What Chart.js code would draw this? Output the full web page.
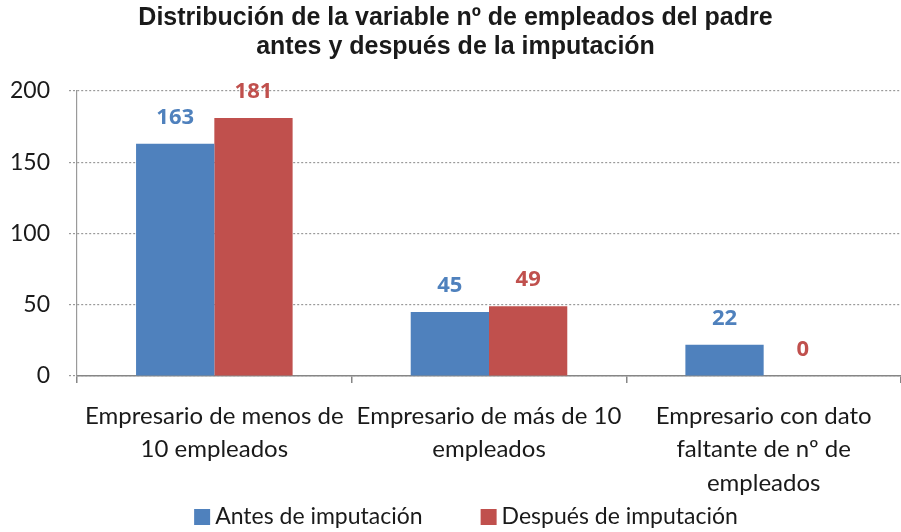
<!DOCTYPE html>
<html>
<head>
<meta charset="utf-8">
<script src="https://cdn.jsdelivr.net/npm/chart.js@4.4.0/dist/chart.umd.min.js"></script>
<style>
  html, body { margin: 0; padding: 0; background: #fff; }
</style>
</head>
<body>
<canvas id="grafico" width="901" height="532"></canvas>
<script>
// Datos
const categorias = [
  ['Empresario de menos de', '10 empleados'],
  ['Empresario de más de 10', 'empleados'],
  ['Empresario con dato', 'faltante de nº de', 'empleados']
];
const series = ['Antes de imputación', 'Después de imputación'];
const antes = [163, 45, 22];
const despues = [181, 49, 0];
const ticksY = [0, 50, 100, 150, 200];

const AZUL = '#4F81BD';
const ROJO = '#C0504D';

// Etiquetas de valor encima de cada barra
const etiquetasValor = {
  id: 'etiquetasValor',
  afterDatasetsDraw(chart) {
    const ctx = chart.ctx;
    ctx.save();
    ctx.font = 'bold 22px "Open Sans", sans-serif';
    ctx.textAlign = 'center';
    ctx.textBaseline = 'middle';
    chart.data.datasets.forEach((ds, i) => {
      const meta = chart.getDatasetMeta(i);
      ctx.fillStyle = ds.backgroundColor;
      meta.data.forEach((bar, j) => {
        ctx.fillText(String(ds.data[j]), bar.x, bar.y - 26);
      });
    });
    ctx.restore();
  }
};

// Leyenda abajo, dibujada a mano para imitar el espaciado de Excel
const leyenda = {
  id: 'leyenda',
  afterDraw(chart) {
    const ctx = chart.ctx;
    ctx.save();
    ctx.font = '23px Lato, sans-serif';
    ctx.textBaseline = 'middle';
    const caja = 16, hueco = 5, sep = 58, yc = 517;
    const items = chart.data.datasets.map(ds => ({ txt: ds.label, color: ds.backgroundColor,
                                                    w: ctx.measureText(ds.label).width }));
    let total = items.reduce((a, it) => a + caja + hueco + it.w, 0) + sep * (items.length - 1);
    let x = 466 - total / 2;
    items.forEach(it => {
      ctx.fillStyle = it.color;
      ctx.fillRect(x, yc - caja / 2, caja, caja);
      ctx.fillStyle = '#1a1a1a';
      ctx.fillText(it.txt, x + caja + hueco, yc);
      x += caja + hueco + it.w + sep;
    });
    ctx.restore();
  }
};

const ctx = document.getElementById('grafico').getContext('2d');
new Chart(ctx, {
  type: 'bar',
  data: {
    labels: categorias,
    datasets: [
      { label: series[0], data: antes, backgroundColor: AZUL,
        categoryPercentage: 0.57, barPercentage: 1 },
      { label: series[1], data: despues, backgroundColor: ROJO,
        categoryPercentage: 0.57, barPercentage: 1 }
    ]
  },
  options: {
    responsive: false,
    animation: false,
    // el área del gráfico sigue un poco más allá del borde derecho, como en el original
    layout: { padding: { left: 0, right: -10, top: 4, bottom: 31 } },
    plugins: {
      title: {
        display: true,
        text: ['Distribución de la variable nº de empleados del padre', 'antes y después de la imputación'],
        color: '#1a1a1a',
        font: { family: '"Liberation Sans", Arial, sans-serif', size: 25, weight: 'bold', lineHeight: 1.16 },
        padding: { top: 0, bottom: 29 }
      },
      legend: { display: false },
      tooltip: { enabled: false }
    },
    scales: {
      x: {
        grid: { display: true, drawOnChartArea: false, drawTicks: true, tickLength: 7,
                color: '#868686', lineWidth: 1.5, offset: true },
        border: { color: '#868686', width: 1.5 },
        ticks: { color: '#1a1a1a', font: { family: 'Lato, sans-serif', size: 24, lineHeight: 1.4 },
                 maxRotation: 0, autoSkip: false, padding: 16 },
        afterFit: s => { s.height = 125; }
      },
      y: {
        min: 0, max: 200,
        afterBuildTicks: s => { s.ticks = ticksY.map(v => ({ value: v })); },
        grid: { color: '#9a9a9a', lineWidth: 1.2, tickLength: 8,
                tickBorderDash: [2, 2], tickColor: '#9a9a9a' },
        border: { display: true, dash: [2, 2], color: '#9a9a9a', width: 1.2 },
        ticks: { color: '#1a1a1a', font: { family: 'Lato, sans-serif', size: 23 }, padding: 19 },
        afterFit: s => { s.width = 77; }
      }
    }
  },
  plugins: [etiquetasValor, leyenda]
});
</script>
</body>
</html>
